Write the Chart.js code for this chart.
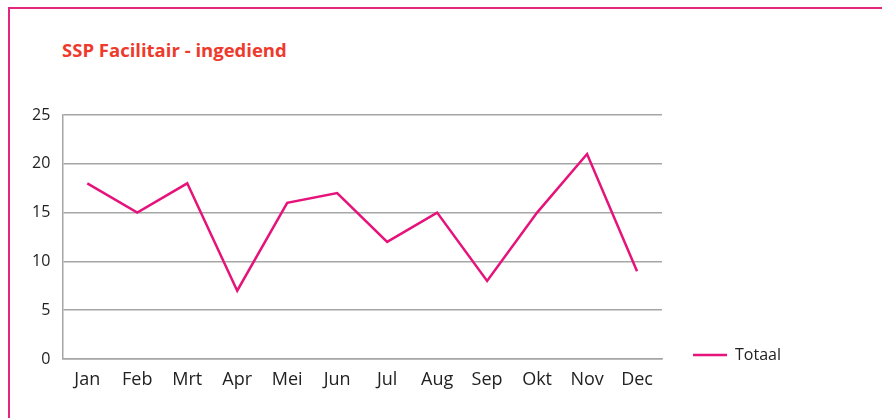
<!DOCTYPE html>
<html lang="nl">
<head>
  <meta charset="UTF-8">
  <title>SSP Facilitair - ingediend</title>
  <script src="https://cdn.jsdelivr.net/npm/chart.js"></script>
  <style>
    body {
      margin: 0;
      background: #fff;
      font-family: 'Open Sans', sans-serif;
      overflow: hidden;
    }
    #kader {
      position: absolute;
      left: 8px;
      top: 7px;
      width: 900px;
      height: 430px;
      border-top: 2px solid #e5267f;
      border-left: 2px solid #e5267f;
    }
    #titel {
      position: absolute;
      left: 62px;
      top: 37px;
      color: #ee3a2c;
      font-weight: bold;
      font-size: 18.5px;
    }
    #wrap {
      position: absolute;
      left: 0;
      top: 0;
      width: 882px;
      height: 418px;
    }
  </style>
</head>
<body>

<div id="kader"></div>
<div id="titel">SSP Facilitair - ingediend</div>
<div id="wrap"><canvas id="grafiek"></canvas></div>

<script>
  var maanden = ['Jan', 'Feb', 'Mrt', 'Apr', 'Mei', 'Jun', 'Jul', 'Aug', 'Sep', 'Okt', 'Nov', 'Dec'];
  var totaal = [18, 15, 18, 7, 16, 17, 12, 15, 8, 15, 21, 9];
  var roze = '#e5137a';
  var grijs = '#a6a6a6';

  var ctx = document.getElementById('grafiek').getContext('2d');

  new Chart(ctx, {
    type: 'line',
    data: {
      labels: maanden,
      datasets: [{
        label: 'Totaal',
        data: totaal,
        borderColor: roze,
        backgroundColor: roze,
        borderWidth: 2.5,
        pointRadius: 0,
        tension: 0
      }]
    },
    options: {
      responsive: true,
      maintainAspectRatio: false,
      animation: false,
      layout: {
        padding: { left: 20, top: 115, right: 91, bottom: 24 }
      },
      plugins: {
        legend: {
          position: 'right',
          align: 'end',
          labels: {
            usePointStyle: true,
            pointStyle: 'line',
            pointStyleWidth: 34,
            color: '#222',
            font: { family: 'Open Sans', size: 16 },
            padding: 31
          }
        },
        tooltip: { enabled: false }
      },
      scales: {
        x: {
          offset: true,
          grid: { display: false, drawTicks: false },
          border: { display: true, color: grijs, width: 1.5 },
          ticks: {
            color: '#222',
            padding: 8,
            maxRotation: 0,
            font: { family: 'Open Sans', size: 18, lineHeight: 1.4 }
          },
          // vaste hoogte zodat plot en legenda onderaan goed uitlijnen
          afterFit: function (schaal) {
            schaal.height = 35;
          }
        },
        y: {
          min: 0,
          max: 25,
          ticks: {
            stepSize: 5,
            color: '#222',
            padding: 12,
            font: { family: 'Open Sans', size: 16 }
          },
          grid: { color: grijs, lineWidth: 1.5, drawTicks: false },
          border: { display: true, color: grijs, width: 1.5 }
        }
      }
    }
  });
</script>

</body>
</html>
